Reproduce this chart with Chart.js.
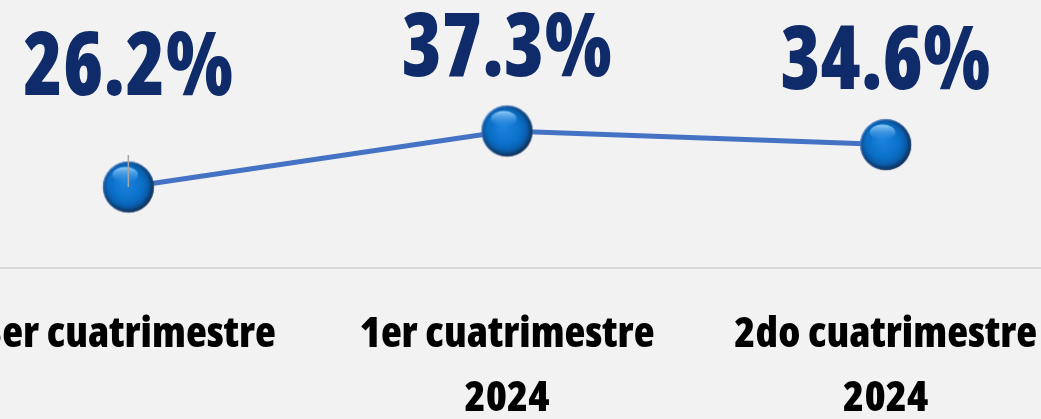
<!DOCTYPE html>
<html>
<head>
<meta charset="utf-8">
<script src="https://cdn.jsdelivr.net/npm/chart.js@4.4.1/dist/chart.umd.min.js"></script>
<style>
  html, body { margin: 0; padding: 0; background: #f2f2f2; overflow: hidden; width: 1041px; height: 419px; }
  #wrap { position: absolute; left: -61px; top: 0; width: 1136px; height: 419px; }
</style>
</head>
<body>
<div id="wrap"><canvas id="c"></canvas></div>
<script>
// Periods and their share values
const periods = [["3er cuatrimestre"], ["1er cuatrimestre", "2024"], ["2do cuatrimestre", "2024"]];
const shares = [26.2, 37.3, 34.6];

// Presentation settings
const LINE_BLUE = '#4472c4';
const LABEL_NAVY = '#0f2b69';
const labelLift = [92, 55, 56];      // baseline distance of each value label above its marker
const leaderLine = [true, false, false];
const FONT_FAMILY = '"Open Sans", "Roboto Condensed", sans-serif';

// Glossy sphere used as the point marker
function makeSphere(r) {
  const size = Math.ceil(r * 2 + 4);
  const cv = document.createElement('canvas');
  cv.width = size; cv.height = size;
  const g = cv.getContext('2d');
  const c = size / 2;

  let grd = g.createRadialGradient(c - r * 0.3, c - r * 0.35, r * 0.2, c, c, r);
  grd.addColorStop(0, '#1f86df');
  grd.addColorStop(0.55, '#0b6fc6');
  grd.addColorStop(0.82, '#0a5aa6');
  grd.addColorStop(1, '#10294a');
  g.beginPath(); g.arc(c, c, r, 0, Math.PI * 2); g.fillStyle = grd; g.fill();

  g.save();
  g.beginPath(); g.arc(c, c, r - 0.5, 0, Math.PI * 2);
  g.lineWidth = 1.5;
  const ring = g.createLinearGradient(c - r, c - r, c + r, c + r);
  ring.addColorStop(0, 'rgba(110,170,240,0.9)');
  ring.addColorStop(0.5, 'rgba(60,120,200,0.5)');
  ring.addColorStop(1, 'rgba(10,25,50,0.9)');
  g.strokeStyle = ring; g.stroke();
  g.restore();

  grd = g.createRadialGradient(c - r * 0.15, c - r * 0.2, r * 0.1, c, c, r * 0.8);
  grd.addColorStop(0, '#1a82dc');
  grd.addColorStop(0.7, '#0b70c8');
  grd.addColorStop(1, 'rgba(11,100,185,0)');
  g.beginPath(); g.arc(c, c, r * 0.8, 0, Math.PI * 2); g.fillStyle = grd; g.fill();

  g.save();
  g.beginPath();
  g.ellipse(c - r * 0.12, c - r * 0.48, r * 0.5, r * 0.3, 0, 0, Math.PI * 2);
  const hl = g.createLinearGradient(0, c - r * 0.8, 0, c - r * 0.15);
  hl.addColorStop(0, 'rgba(170,220,255,0.9)');
  hl.addColorStop(1, 'rgba(60,150,235,0)');
  g.fillStyle = hl; g.fill();
  g.restore();
  return cv;
}
const sphere = makeSphere(25.5);

// Value labels drawn above each marker
const valueLabels = {
  id: 'valueLabels',
  afterDatasetsDraw(chart) {
    const ctx = chart.ctx;
    const meta = chart.getDatasetMeta(0);
    meta.data.forEach((pt, i) => {
      if (leaderLine[i]) {
        ctx.save();
        ctx.strokeStyle = '#a6a6a6';
        ctx.lineWidth = 1.5;
        ctx.beginPath();
        ctx.moveTo(pt.x, pt.y);
        ctx.lineTo(pt.x, pt.y - 32);
        ctx.stroke();
        ctx.restore();
      }
      const text = shares[i].toFixed(1) + '%';
      ctx.save();
      ctx.translate(pt.x, pt.y - labelLift[i]);
      ctx.scale(0.92, 1);
      ctx.font = '800 condensed 88px ' + FONT_FAMILY;
      ctx.fillStyle = LABEL_NAVY;
      ctx.textAlign = 'center';
      ctx.textBaseline = 'alphabetic';
      ctx.fillText(text, 0, 0);
      ctx.restore();
    });
  }
};

new Chart(document.getElementById('c'), {
  type: 'line',
  data: {
    labels: periods,
    datasets: [{
      data: shares,
      borderColor: LINE_BLUE,
      borderWidth: 5,
      pointStyle: sphere,
      pointRadius: 25,
      pointHoverRadius: 25,
      tension: 0,
      clip: false
    }]
  },
  options: {
    responsive: true,
    maintainAspectRatio: false,
    animation: false,
    events: [],
    layout: { padding: 0, autoPadding: false },
    plugins: { legend: { display: false }, tooltip: { enabled: false } },
    scales: {
      x: {
        offset: true,
        grid: { display: false, drawTicks: false },
        border: { display: true, color: '#d9d9d9', width: 2 },
        ticks: {
          color: '#000000',
          padding: 35,
          font: { family: FONT_FAMILY, weight: '800 condensed', size: 43, lineHeight: 1.49 },
          maxRotation: 0,
          autoSkip: false
        },
        afterFit(scale) { scale.height = 151; }
      },
      y: {
        display: false,
        min: 10.16,
        max: 63.23
      }
    }
  },
  plugins: [valueLabels]
});
</script>
</body>
</html>
